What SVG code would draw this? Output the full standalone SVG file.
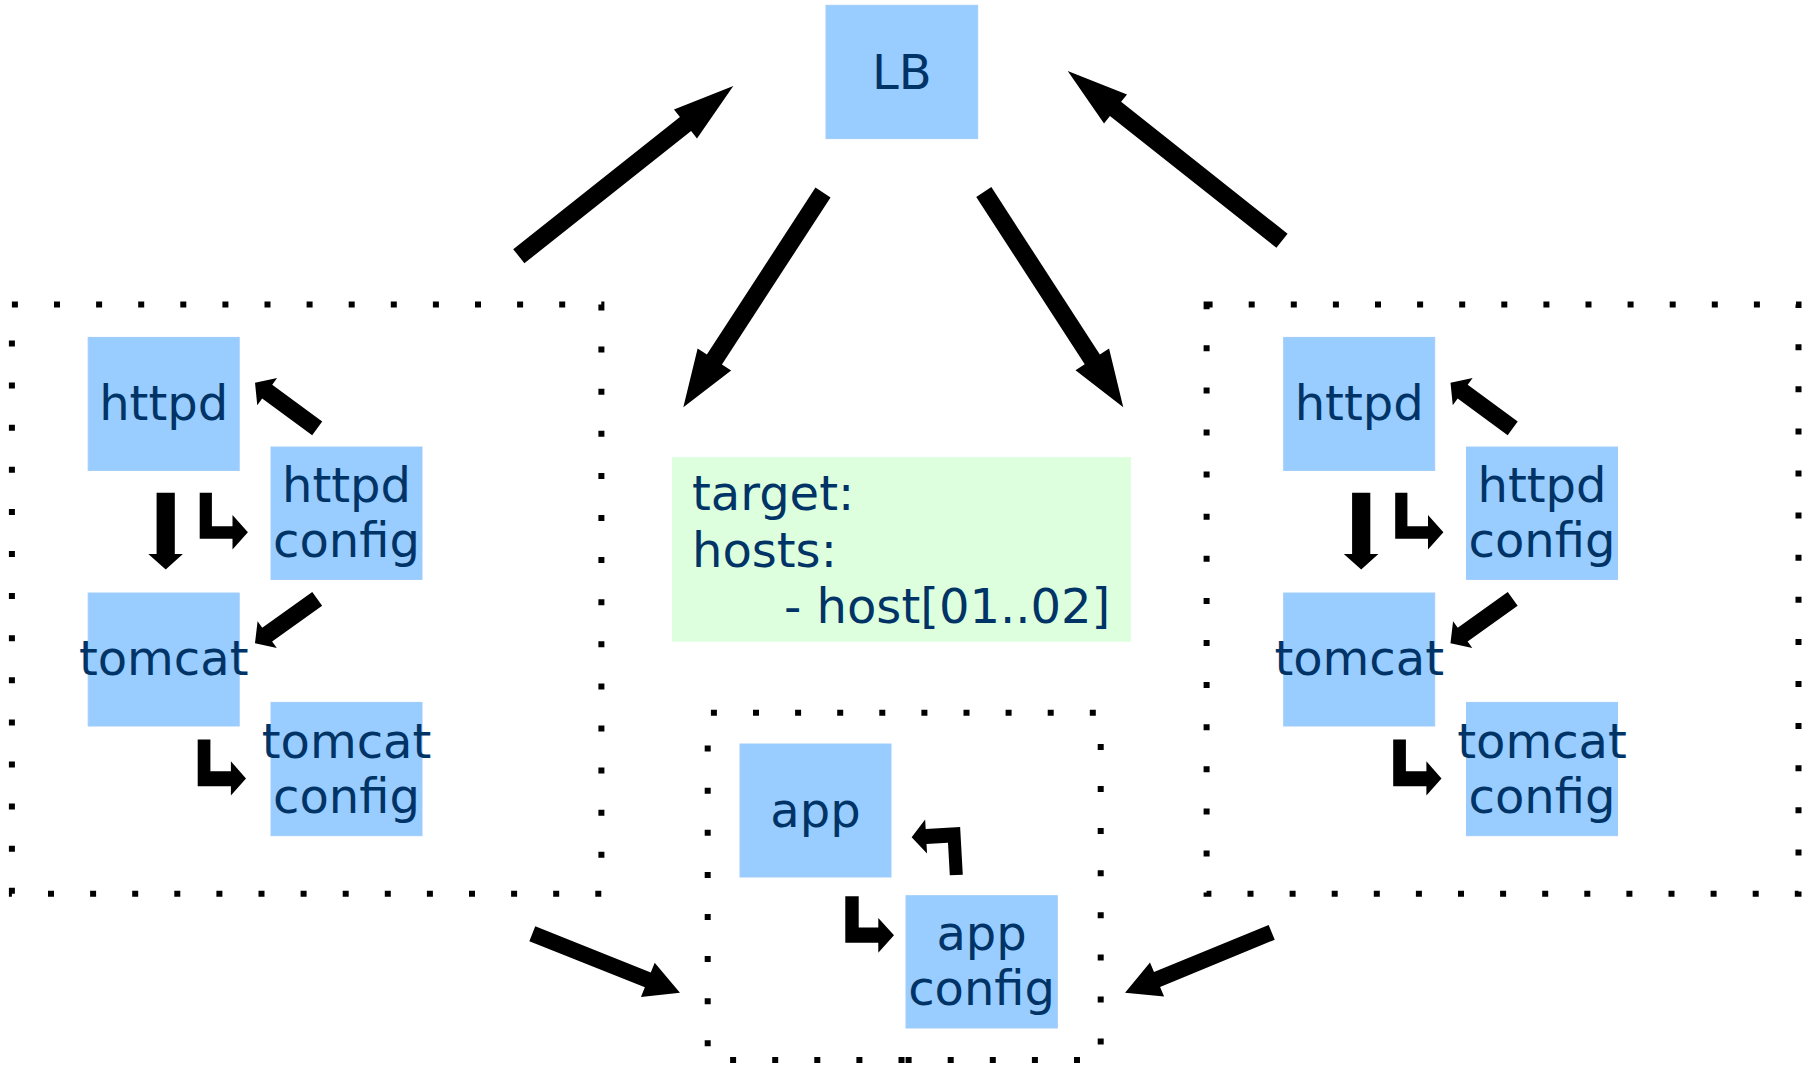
<svg xmlns="http://www.w3.org/2000/svg" width="1806" height="1067" viewBox="0 0 1806 1067">
<style>
.box{fill:#99ccff;stroke:#9fcdfb;stroke-width:1}
.note{fill:#ddffdd}
.lbl{font-family:"DejaVu Sans","Noto Sans",sans-serif;font-size:48px;fill:#003366;text-anchor:middle}
.txt{font-family:"DejaVu Sans","Noto Sans",sans-serif;font-size:48px;fill:#003366}
.dot{fill:none;stroke:#000;stroke-width:6;stroke-dasharray:6 36.1}
.arr{fill:#000;stroke:none}
</style>
<rect width="1806" height="1067" fill="#fff"/>

<g id="group-left"><rect class="dot" x="11.9" y="304.6" width="589.5" height="589.2"/></g>
<g id="group-right"><rect class="dot" x="1206.6" y="304.6" width="591.9" height="589.2"/></g>
<g id="group-center"><path class="dot" d="M904.5,1060 H707.7 V712.7 H1100.7 V1060 Z"/></g>

<g id="lb"><rect class="box" x="826" y="5.3" width="151.7" height="133.3"/><text class="lbl" x="901.8" y="89">LB</text></g>

<g id="target"><rect class="note" x="672" y="457" width="459" height="184.7"/>
<text class="txt" x="692" y="510">target:</text>
<text class="txt" x="692" y="566.7">hosts:</text>
<text class="txt" x="784" y="623.3">- host[01..02]</text></g>

<g id="httpd-1"><rect class="box" x="88.2" y="337.4" width="151" height="133"/><text class="lbl" x="163.7" y="420">httpd</text></g>
<g id="httpd-config-1"><rect class="box" x="271" y="447" width="151" height="132.4"/><text class="lbl" x="346.5" y="501.5">httpd</text><text class="lbl" x="346.5" y="557">config</text></g>
<g id="tomcat-1"><rect class="box" x="88.2" y="593" width="151" height="133"/><text class="lbl" x="163.7" y="674.5">tomcat</text></g>
<g id="tomcat-config-1"><rect class="box" x="271" y="702.4" width="151" height="133.3"/><text class="lbl" x="346.5" y="757.8">tomcat</text><text class="lbl" x="346.5" y="813.1">config</text></g>

<g id="httpd-2"><rect class="box" x="1283.7" y="337.4" width="151" height="133"/><text class="lbl" x="1359.2" y="420">httpd</text></g>
<g id="httpd-config-2"><rect class="box" x="1466.5" y="447" width="151" height="132.4"/><text class="lbl" x="1542" y="501.5">httpd</text><text class="lbl" x="1542" y="557">config</text></g>
<g id="tomcat-2"><rect class="box" x="1283.7" y="593" width="151" height="133"/><text class="lbl" x="1359.2" y="674.5">tomcat</text></g>
<g id="tomcat-config-2"><rect class="box" x="1466.5" y="702.4" width="151" height="133.3"/><text class="lbl" x="1542" y="757.8">tomcat</text><text class="lbl" x="1542" y="813.1">config</text></g>

<g id="app"><rect class="box" x="740" y="744" width="151" height="133"/><text class="lbl" x="815.5" y="826.7">app</text></g>
<g id="app-config"><rect class="box" x="906" y="895.7" width="151.3" height="132.3"/><text class="lbl" x="981.6" y="950">app</text><text class="lbl" x="981.6" y="1005">config</text></g>

<g id="connectors">
<path class="arr" transform="translate(823,192.5) rotate(123.04)" d="M0,-9 H199.2 V-20 L256.2,0 L199.2,20 V9 H0 Z"/>
<path class="arr" transform="translate(983.8,192) rotate(57.06)" d="M0,-9 H199.5 V-20 L256.5,0 L199.5,20 V9 H0 Z"/>
<path class="arr" transform="translate(518.8,256.2) rotate(-38.43)" d="M0,-9 H212.8 V-18.5 L273.8,0 L212.8,18.5 V9 H0 Z"/>
<path class="arr" transform="translate(1282,240.8) rotate(-141.61)" d="M0,-9 H212.4 V-18.5 L273.4,0 L212.4,18.5 V9 H0 Z"/>
<path class="arr" transform="translate(532.3,933.7) rotate(21.77)" d="M0,-8 H124.4 V-18.5 L159,0 L124.4,18.5 V8 H0 Z"/>
<path class="arr" transform="translate(1271.7,932.3) rotate(157.62)" d="M0,-8 H124 V-18.5 L158.6,0 L124,18.5 V8 H0 Z"/>

<g id="inner-left">
<path class="arr" transform="translate(317.2,428.3) rotate(-143.76)" d="M0,-8.5 H62 V-16.8 L77.1,0 L62,16.8 V8.5 H0 Z"/>
<path class="arr" transform="translate(317.2,598.8) rotate(144.42)" d="M0,-8.5 H61.5 V-16.5 L76.5,0 L61.5,16.5 V8.5 H0 Z"/>
<path class="arr" d="M156.6,492.8 H174.8 V554.1 H182.9 L165.7,569.5 L148.3,554.1 H156.6 Z"/>
<path class="arr" d="M199.7,492.8 H211.9 V526.2 H232.5 V515 L247.9,532.3 L232.5,549.5 V538.8 H199.7 Z"/>
<path class="arr" d="M197.7,739.6 H210.4 V771.2 H230.9 V761.3 L246,778.5 L230.9,795.5 V786.2 H197.7 Z"/>
</g>
<g id="inner-right" transform="translate(1195.5,0)">
<path class="arr" transform="translate(317.2,428.3) rotate(-143.76)" d="M0,-8.5 H62 V-16.8 L77.1,0 L62,16.8 V8.5 H0 Z"/>
<path class="arr" transform="translate(317.2,598.8) rotate(144.42)" d="M0,-8.5 H61.5 V-16.5 L76.5,0 L61.5,16.5 V8.5 H0 Z"/>
<path class="arr" d="M156.6,492.8 H174.8 V554.1 H182.9 L165.7,569.5 L148.3,554.1 H156.6 Z"/>
<path class="arr" d="M199.7,492.8 H211.9 V526.2 H232.5 V515 L247.9,532.3 L232.5,549.5 V538.8 H199.7 Z"/>
<path class="arr" d="M197.7,739.6 H210.4 V771.2 H230.9 V761.3 L246,778.5 L230.9,795.5 V786.2 H197.7 Z"/>
</g>
<path class="arr" d="M845.3,896.3 H858.7 V927.5 H878.3 V918 L894,935.3 L878.3,952.7 V942.7 H845.3 Z"/>
<path class="arr" transform="translate(956.3,875) rotate(-3.2)" d="M-6.5,0 H6.5 V-47.7 H-28 V-57.2 L-42.5,-40.2 L-28,-23.2 V-32.7 H-6.5 Z"/>
</g>
</svg>
